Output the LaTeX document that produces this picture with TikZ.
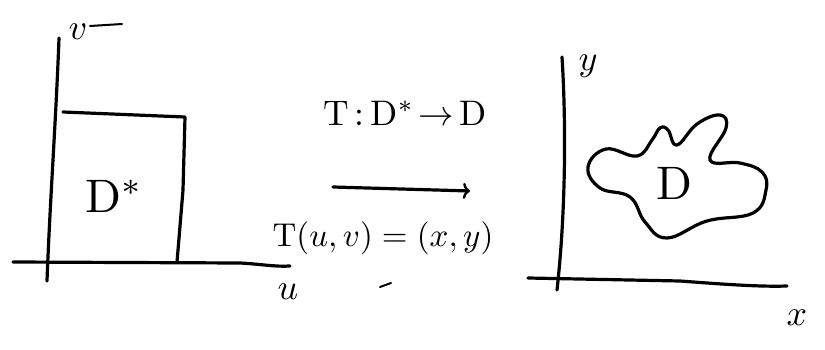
\documentclass[tikz,border=0pt]{standalone}
\usepackage{graphicx}
\usetikzlibrary{arrows.meta}
\newcommand{\lblsc}[1]{\scalebox{3.6}{#1}}
\newcommand{\bigsc}[1]{\scalebox{4.7}{#1}}
\newcommand{\mapsc}[1]{\scalebox{3.55}{#1}}
\newcommand{\eqsc}[1]{\scalebox{3.3}{#1}}
\begin{document}
\begin{tikzpicture}[x=1pt,y=-1pt,
  pen/.style={line width=3.2pt,line cap=round,line join=round,black},
  lbl/.style={inner sep=0pt}]
\useasboundingbox (0,0) rectangle (825,350);
% left axes
\draw[pen] (59,38) .. controls (56,120) and (50,200) .. (47,281);
\draw[pen] (13,262) -- (240,263) .. controls (260,264) and (275,267) .. (290,266);
% rectangle D*
\draw[pen] (63,112) -- (185,117) -- (183,190) -- (177,262);
\node[lbl] (v) at (78,32) {\lblsc{$v$}};
\draw[pen,line width=2pt] (90,26) -- (122,24);
\node[lbl] (u) at (288,292) {\lblsc{$u$}};
\node[lbl] (Ds) at (114,196) {\bigsc{D$^{*}$}};
% middle
\node[lbl] (map) at (405,113) {\mapsc{T\,:\,D$^{*}\!\to$\,D}};
\coordinate (a1) at (333,187);
\coordinate (a2) at (470,191);
\draw[pen,-{To[length=7pt,width=16pt,line width=2.4pt]}] (a1) -- (a2);
\node[lbl] (eqn) at (383,238) {\eqsc{T$(u,v)=(x,y)$}};
\draw[pen,line width=2pt] (380,287) -- (391,283);
% right axes
\draw[pen] (562,57) .. controls (566,120) and (566,210) .. (557,290);
\draw[pen] (528,278) -- (680,281) .. controls (720,284) and (760,287) .. (787,286);
\node[lbl] (y) at (588,66) {\lblsc{$y$}};
\node[lbl] (x) at (797,318) {\lblsc{$x$}};
% blob D
\draw[pen] plot[smooth cycle,tension=0.7] coordinates {
 (588,167) (606,149) (637,156) (652,140) (660,128) (668,130) (677,145)
 (697,124) (720,115) (726,128) (710,160) (740,163) (762,172) (766,190)
 (753,213) (707,221) (667,238) (645,222) (630,197) (600,188)};
\node[lbl] (D) at (674,183) {\bigsc{D}};
\end{tikzpicture}
\end{document}
